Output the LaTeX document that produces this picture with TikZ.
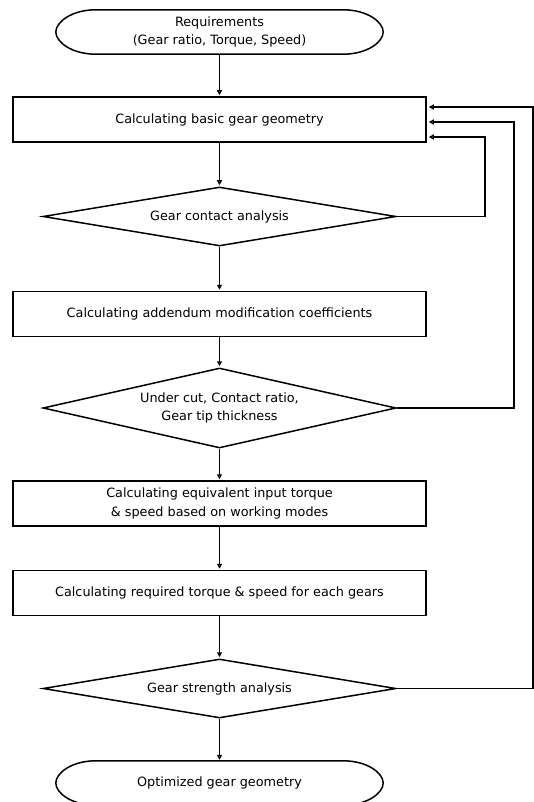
\documentclass[tikz,border=0pt]{standalone}
\usepackage{fontspec}
\setmainfont{DejaVu Sans}
\usetikzlibrary{arrows.meta,shapes.geometric,calc}
\newcommand\termoutline[1]{%
  \draw[outl] ([xshift=40pt]#1.north west) -- ([xshift=-40pt]#1.north east)
    .. controls ([xshift=-16pt]#1.north east) and ([yshift=10pt]#1.east) .. (#1.east)
    .. controls ([yshift=-10pt]#1.east) and ([xshift=-16pt]#1.south east) .. ([xshift=-40pt]#1.south east)
    -- ([xshift=40pt]#1.south west)
    .. controls ([xshift=16pt]#1.south west) and ([yshift=-10pt]#1.west) .. (#1.west)
    .. controls ([yshift=10pt]#1.west) and ([xshift=16pt]#1.north west) .. cycle;}
\begin{document}
\begin{tikzpicture}[x=1pt,y=-1pt,
  font=\fontsize{12.8}{18.5}\selectfont,
  outl/.style={line width=1.5pt, line join=miter},
  term/.style={minimum width=327pt, minimum height=44pt, inner sep=0pt, align=center},
  procbox/.style={draw, line width=1.5pt, minimum width=413pt, minimum height=45pt, inner sep=0pt, align=center},
  decis/.style={draw, line width=1.5pt, diamond, aspect=6, minimum width=353pt, minimum height=59pt, inner sep=0pt, align=center},
  flow/.style={line width=1.4pt, -{Triangle[open, length=5pt, width=5pt]}, shorten >=1pt}]
\useasboundingbox (0,0) rectangle (534,802);
\node[term] (t1) at (219.5,32) {Requirements\\(Gear ratio, Torque, Speed)};
\termoutline{t1}
\node[procbox] (b1) at (219.5,119.5) {Calculating basic gear geometry};
\node[decis] (d1) at (219.5,216.5) {Gear contact analysis};
\node[procbox] (b2) at (219.5,314) {Calculating addendum modification coefficients};
\node[decis, minimum height=80pt] (d2) at (219.5,408) {Under cut, Contact ratio,\\Gear tip thickness};
\node[procbox] (b3) at (219.5,503.5) {Calculating equivalent input torque\\\& speed based on working modes};
\node[procbox] (b4) at (219.5,593) {Calculating required torque \& speed for each gears};
\node[decis] (d3) at (219.5,688.5) {Gear strength analysis};
\node[term] (t2) at (219.5,783) {Optimized gear geometry};
\termoutline{t2}
\coordinate (r1) at (485,216.5);
\coordinate (r2) at (514,408);
\coordinate (r3) at (533,688.5);
\draw[flow] (t1) -- (b1);
\draw[flow] (b1) -- (d1);
\draw[flow] (d1) -- (b2);
\draw[flow] (b2) -- (d2);
\draw[flow] (d2) -- (b3);
\draw[flow] (b3) -- (b4);
\draw[flow] (b4) -- (d3);
\draw[flow] (d3) -- (t2);
\draw[flow, shorten >=2pt] (d1.east) -- (r1) |- ([yshift=-17.5pt]b1.east);
\draw[flow, shorten >=2pt] (d2.east) -- (r2) |- ([yshift=-2.5pt]b1.east);
\draw[flow, shorten >=2pt] (d3.east) -- (r3) |- ([yshift=12.5pt]b1.east);
\end{tikzpicture}
\end{document}
